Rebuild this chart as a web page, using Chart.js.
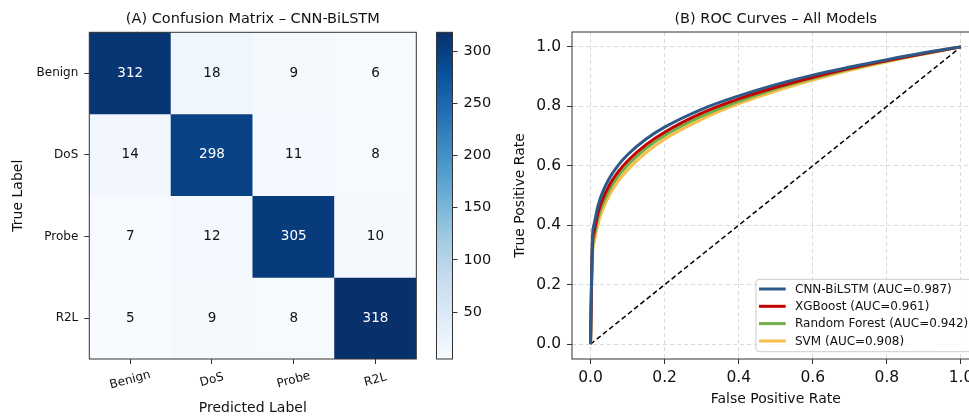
<!DOCTYPE html>
<html>
<head>
<meta charset="utf-8">
<script src="https://cdn.jsdelivr.net/npm/chart.js@4.4.0/dist/chart.umd.min.js"></script>
<style>
html,body{margin:0;padding:0;background:#fff;overflow:hidden;width:969px;height:417px;}
.box{position:absolute;top:0;height:417px;}
#cmBox{left:0;width:430px;}
#cbBox{left:430px;width:80px;}
#rocBox{left:500px;width:500px;}
</style>
</head>
<body>
<div class="box" id="cmBox"><canvas id="cm"></canvas></div>
<div class="box" id="cbBox"><canvas id="cb"></canvas></div>
<div class="box" id="rocBox"><canvas id="roc"></canvas></div>
<script>
// ---------------- DATA ----------------
const classLabels = ['Benign', 'DoS', 'Probe', 'R2L'];
const rowBenign = [312, 18, 9, 6];
const rowDoS    = [14, 298, 11, 8];
const rowProbe  = [7, 12, 305, 10];
const rowR2L    = [5, 9, 8, 318];
const colorbarTicks = [50, 100, 150, 200, 250, 300];

const fpr     = [0, 0.005, 0.01, 0.02, 0.03, 0.05, 0.075, 0.1, 0.15, 0.2, 0.3, 0.4, 0.5, 0.6, 0.7, 0.8, 0.9, 1.0];
const tprCNN  = [0, 0.354, 0.405, 0.464, 0.503, 0.556, 0.602, 0.637, 0.690, 0.730, 0.790, 0.835, 0.873, 0.905, 0.932, 0.957, 0.980, 1.0];
const tprXGB  = [0, 0.329, 0.380, 0.440, 0.479, 0.533, 0.580, 0.616, 0.671, 0.713, 0.777, 0.825, 0.864, 0.898, 0.928, 0.954, 0.978, 1.0];
const tprRF   = [0, 0.312, 0.363, 0.423, 0.462, 0.517, 0.566, 0.602, 0.659, 0.702, 0.767, 0.817, 0.859, 0.894, 0.925, 0.952, 0.977, 1.0];
const tprSVM  = [0, 0.293, 0.344, 0.403, 0.443, 0.499, 0.548, 0.586, 0.644, 0.689, 0.756, 0.809, 0.851, 0.888, 0.921, 0.950, 0.976, 1.0];
const modelNames = ['CNN-BiLSTM (AUC=0.987)', 'XGBoost (AUC=0.961)', 'Random Forest (AUC=0.942)', 'SVM (AUC=0.908)'];
const modelColors = ['#2d5a88', '#c40000', '#70ad47', '#f6be4a'];
const diagX = [0, 1];
const diagY = [0, 1];
const rocTicks = [0, 0.2, 0.4, 0.6, 0.8, 1.0];

// ---------------- STYLE HELPERS ----------------
Chart.defaults.font.family = "'DejaVu Sans', sans-serif";
Chart.defaults.color = '#111';
const BLUES = ['#f7fbff','#deebf7','#c6dbef','#9ecae1','#6baed6','#4292c6','#2171b5','#08519c','#08306b'];
function hex2rgb(h){return [parseInt(h.slice(1,3),16),parseInt(h.slice(3,5),16),parseInt(h.slice(5,7),16)];}
function blues(t){
  t = Math.max(0, Math.min(1, t));
  const p = t * (BLUES.length - 1);
  const i = Math.min(Math.floor(p), BLUES.length - 2);
  const f = p - i;
  const a = hex2rgb(BLUES[i]), b = hex2rgb(BLUES[i+1]);
  const c = a.map((v,k)=>Math.round(v + (b[k]-v)*f));
  return `rgb(${c[0]},${c[1]},${c[2]})`;
}
const rows = [rowBenign, rowDoS, rowProbe, rowR2L];
const allVals = rows.flat();
const vmin = Math.min(...allVals), vmax = Math.max(...allVals);
const SPINE = '#333';

function frame(chart){
  const {ctx, chartArea:a} = chart;
  ctx.save();
  ctx.strokeStyle = SPINE; ctx.lineWidth = 1;
  ctx.strokeRect(a.left, a.top, a.right - a.left, a.bottom - a.top);
  ctx.restore();
}
function drawTitle(chart, text){
  const {ctx, chartArea:a} = chart;
  ctx.save();
  ctx.font = "14.5px 'DejaVu Sans'";
  ctx.fillStyle = '#111'; ctx.textAlign = 'center'; ctx.textBaseline = 'middle';
  ctx.fillText(text, (a.left + a.right)/2, 19);
  ctx.restore();
}

// ---------------- CONFUSION MATRIX ----------------
const cmPlugin = {
  id: 'cmPlugin',
  afterDatasetsDraw(chart){
    const {ctx} = chart;
    ctx.save();
    ctx.font = "13.5px 'DejaVu Sans'";
    ctx.textAlign = 'center'; ctx.textBaseline = 'middle';
    chart.data.datasets.forEach((ds, i) => {
      chart.getDatasetMeta(i).data.forEach((bar, j) => {
        const v = ds.values[j];
        ctx.fillStyle = v > vmax / 2 ? '#fff' : '#111';
        ctx.fillText(String(v), bar.x, (bar.y + bar.base) / 2);
      });
    });
    ctx.restore();
  },
  afterDraw(chart){
    frame(chart);
    drawTitle(chart, '(A) Confusion Matrix – CNN-BiLSTM');
    const {ctx} = chart;
    const xs = chart.scales.x;
    ctx.save();
    ctx.font = "12px 'DejaVu Sans'";
    ctx.fillStyle = '#111'; ctx.textAlign = 'center'; ctx.textBaseline = 'middle';
    chart.data.labels.forEach((lab, j) => {
      const x = xs.getPixelForValue(j);
      ctx.save();
      ctx.translate(x, 380);
      ctx.rotate(-15 * Math.PI / 180);
      ctx.fillText(lab, 0, 0);
      ctx.restore();
    });
    ctx.restore();
  }
};

new Chart(document.getElementById('cm'), {
  type: 'bar',
  data: {
    labels: classLabels,
    datasets: rows.map((r, i) => ({
      label: classLabels[i],
      data: r.map(() => 1),
      values: r,
      backgroundColor: r.map(v => blues((v - vmin) / (vmax - vmin))),
      borderWidth: 0,
      barPercentage: 1,
      categoryPercentage: 1
    }))
  },
  options: {
    responsive: true, maintainAspectRatio: false, animation: false, events: [],
    layout: { padding: { left: 0, right: 13.7, top: 32.3, bottom: 0 } },
    plugins: { legend: { display: false }, tooltip: { enabled: false } },
    scales: {
      x: {
        stacked: true,
        grid: { display: true, drawOnChartArea: false, offset: false, tickLength: 5, tickColor: SPINE, tickWidth: 1 },
        border: { display: false },
        ticks: { display: false },
        title: { display: true, text: 'Predicted Label', font: { size: 14 }, color: '#111', padding: { top: 0, bottom: 0.3 } },
        afterFit(s){ s.height = 58; }
      },
      y: {
        stacked: true, min: 0, max: 4, reverse: true,
        afterBuildTicks(s){ s.ticks = [0.5, 1.5, 2.5, 3.5].map(v => ({ value: v })); },
        ticks: { callback: v => classLabels[Math.floor(v)], font: { size: 12 }, color: '#111', padding: 6 },
        grid: { display: true, drawOnChartArea: false, tickLength: 5, tickColor: SPINE, tickWidth: 1 },
        border: { display: false },
        title: { display: true, text: 'True Label', font: { size: 14 }, color: '#111', padding: { top: 10.1, bottom: 0 } },
        afterFit(s){ s.width = 89.3; }
      }
    }
  },
  plugins: [cmPlugin]
});

// ---------------- COLORBAR ----------------
new Chart(document.getElementById('cb'), {
  type: 'bar',
  data: {
    labels: [''],
    datasets: [{
      data: [[vmin, vmax]],
      backgroundColor: (c) => {
        const { ctx, chartArea } = c.chart;
        if (!chartArea) return BLUES[4];
        const g = ctx.createLinearGradient(0, chartArea.bottom, 0, chartArea.top);
        BLUES.forEach((col, i) => g.addColorStop(i / (BLUES.length - 1), col));
        return g;
      },
      borderWidth: 0, barPercentage: 1, categoryPercentage: 1
    }]
  },
  options: {
    responsive: true, maintainAspectRatio: false, animation: false, events: [],
    layout: { padding: { left: 6.5, right: 0, top: 32.3, bottom: 58 } },
    plugins: { legend: { display: false }, tooltip: { enabled: false } },
    scales: {
      x: { display: false },
      y: {
        position: 'right', min: vmin, max: vmax,
        afterBuildTicks(s){ s.ticks = colorbarTicks.map(v => ({ value: v })); },
        ticks: { font: { size: 14.5 }, color: '#111', padding: 6 },
        grid: { display: true, drawOnChartArea: false, tickLength: 5, tickColor: SPINE, tickWidth: 1 },
        border: { display: false },
        afterFit(s){ s.width = 57.5; }
      }
    }
  },
  plugins: [{ id: 'cbFrame', afterDraw: frame }]
});

// ---------------- ROC ----------------
const rocSeries = [tprCNN, tprXGB, tprRF, tprSVM];
const rocPlugin = {
  id: 'rocPlugin',
  afterDraw(chart){
    frame(chart);
    drawTitle(chart, '(B) ROC Curves – All Models');
    const { ctx } = chart;
    const bx = 256, by = 279.3, bw = 218, bh = 72.4;
    ctx.save();
    ctx.fillStyle = 'rgba(255,255,255,0.85)';
    ctx.strokeStyle = '#cccccc'; ctx.lineWidth = 1;
    ctx.beginPath();
    ctx.roundRect(bx, by, bw, bh, 3);
    ctx.fill(); ctx.stroke();
    ctx.font = "12px 'DejaVu Sans'";
    ctx.textAlign = 'left'; ctx.textBaseline = 'middle';
    const rowsY = [289, 306.3, 323.6, 341];
    chart.data.datasets.forEach((ds, i) => {
      if (!ds.inLegend) return;
      const y = rowsY[i];
      ctx.strokeStyle = ds.borderColor; ctx.lineWidth = 3;
      ctx.beginPath(); ctx.moveTo(259, y); ctx.lineTo(285.7, y); ctx.stroke();
      ctx.fillStyle = '#111';
      ctx.fillText(ds.label, 295, y + 0.5);
    });
    ctx.restore();
  }
};

new Chart(document.getElementById('roc'), {
  type: 'scatter',
  data: {
    datasets: rocSeries.map((s, i) => ({
      label: modelNames[i],
      inLegend: true,
      data: fpr.map((x, k) => ({ x: x, y: s[k] })),
      showLine: true,
      borderColor: modelColors[i],
      backgroundColor: modelColors[i],
      borderWidth: 3,
      pointRadius: 0,
      cubicInterpolationMode: 'monotone',
      borderCapStyle: 'butt'
    })).concat([{
      label: 'Random',
      inLegend: false,
      data: diagX.map((x, k) => ({ x: x, y: diagY[k] })),
      showLine: true,
      borderColor: '#000',
      borderWidth: 1.5,
      borderDash: [5, 3],
      pointRadius: 0
    }])
  },
  options: {
    responsive: true, maintainAspectRatio: false, animation: false, events: [],
    layout: { padding: { left: 0, right: 20.5, top: 32, bottom: 0 } },
    plugins: { legend: { display: false }, tooltip: { enabled: false } },
    scales: {
      x: {
        type: 'linear', min: -0.05, max: 1.05,
        afterBuildTicks(s){ s.ticks = rocTicks.map(v => ({ value: v })); },
        ticks: { callback: v => v.toFixed(1), font: { size: 15.5 }, color: '#111', padding: 5 },
        grid: { color: '#d9d9d9', lineWidth: 1, tickLength: 5, tickColor: SPINE, tickWidth: 1, tickBorderDash: [] },
        border: { display: false, dash: [4, 3] },
        title: { display: true, text: 'False Positive Rate', font: { size: 14 }, color: '#111', padding: { top: 0, bottom: 9.6 } },
        afterFit(s){ s.height = 58; }
      },
      y: {
        type: 'linear', min: -0.05, max: 1.05,
        afterBuildTicks(s){ s.ticks = rocTicks.map(v => ({ value: v })); },
        ticks: { callback: v => v.toFixed(1), font: { size: 15.5 }, color: '#111', padding: 6 },
        grid: { color: '#d9d9d9', lineWidth: 1, tickLength: 5, tickColor: SPINE, tickWidth: 1, tickBorderDash: [] },
        border: { display: false, dash: [4, 3] },
        title: { display: true, text: 'True Positive Rate', font: { size: 14 }, color: '#111', padding: { top: 12.3, bottom: 0 } },
        afterFit(s){ s.width = 72; }
      }
    }
  },
  plugins: [rocPlugin]
});
</script>
</body>
</html>
